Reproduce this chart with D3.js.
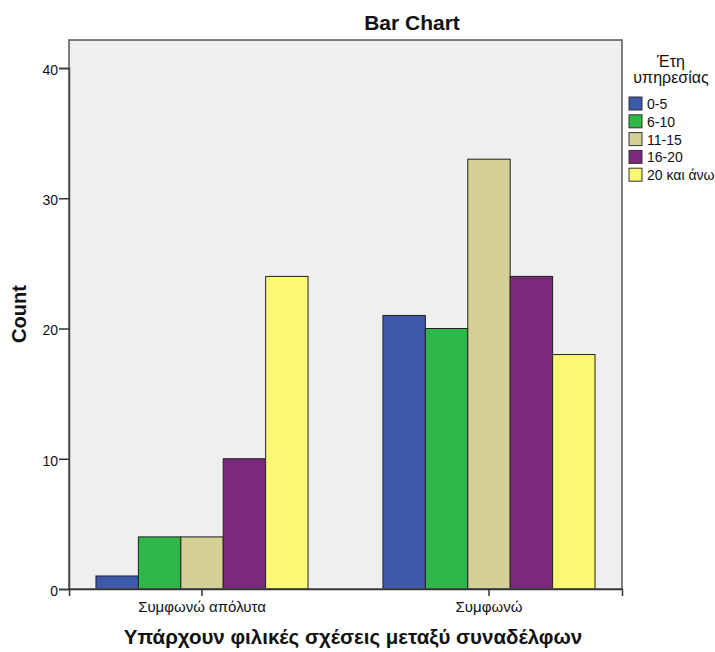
<!DOCTYPE html>
<html><head><meta charset="utf-8">
<script src="https://cdn.jsdelivr.net/npm/d3@7"></script>
<style>body{margin:0;background:#fff}svg{display:block}text{font-family:Arial,"Liberation Sans",sans-serif}</style>
</head><body>
<svg id="c" width="715" height="652"></svg>
<script>
const categories = ["Συμφωνώ απόλυτα", "Συμφωνώ"];
const seriesNames = ["0-5", "6-10", "11-15", "16-20", "20 και άνω"];
const seriesColors = ["#3e58ac", "#2fb84a", "#d3cf97", "#7b297c", "#fbf874"];
const values = [
  [1, 4, 4, 10, 24],
  [21, 20, 33, 24, 18]
];
const yTicks = [0, 10, 20, 30, 40];

const svg = d3.select("#c");
const L = 69, R = 622, T = 40, B = 589;

svg.append("rect").attr("x", L).attr("y", T).attr("width", R - L).attr("height", B - T)
  .attr("fill", "#efefef");

const x0 = d3.scaleBand().domain(categories).range([L, R]).paddingInner(0.261).paddingOuter(0.094);
const x1 = d3.scaleBand().domain(seriesNames).range([0, x0.bandwidth()]);
const y = d3.scaleLinear().domain([0, 40]).range([B, 68]);

const groups = svg.append("g").selectAll("g").data(categories).join("g")
  .attr("transform", d => `translate(${x0(d)},0)`);
groups.selectAll("rect").data((d, i) => values[i].map((v, j) => ({v, s: seriesNames[j], c: seriesColors[j]})))
  .join("rect")
  .attr("x", d => x1(d.s)).attr("y", d => y(d.v))
  .attr("width", x1.bandwidth()).attr("height", d => B - y(d.v))
  .attr("fill", d => d.c).attr("stroke", "#222").attr("stroke-width", 1);

// frame
svg.append("rect").attr("x", L).attr("y", T).attr("width", R - L).attr("height", B - T)
  .attr("fill", "none").attr("stroke", "#555").attr("stroke-width", 1.5);

// y axis
const ya = svg.append("g").attr("transform", `translate(${L},0)`)
  .call(d3.axisLeft(y).tickValues(yTicks).tickSize(10).tickPadding(1).tickFormat(d3.format("d")));
ya.select(".domain").attr("stroke", "#444").attr("stroke-width", 1.5);
ya.selectAll(".tick line").attr("stroke", "#333").attr("stroke-width", 1.5);
ya.selectAll("text").attr("font-size", 14).attr("dy", "0.45em").attr("fill", "#111")
  .attr("font-family", "Arial,'Liberation Sans',sans-serif");

// x axis
const xa = svg.append("g").attr("transform", `translate(0,${B})`)
  .call(d3.axisBottom(x0).tickSize(7).tickPadding(5));
xa.select(".domain").attr("stroke", "#333").attr("stroke-width", 1.5);
xa.selectAll(".tick line").attr("stroke", "#333").attr("stroke-width", 1.5);
xa.selectAll("text").attr("font-size", 15).attr("fill", "#111")
  .attr("font-family", "Arial,'Liberation Sans',sans-serif");

// titles
svg.append("text").attr("x", 412).attr("y", 30).attr("text-anchor", "middle")
  .attr("font-size", 21).attr("font-weight", "bold").attr("fill", "#111").text("Bar Chart");
svg.append("text").attr("transform", "translate(26,314) rotate(-90)").attr("text-anchor", "middle")
  .attr("font-size", 20).attr("font-weight", "bold").attr("fill", "#111").text("Count");
svg.append("text").attr("x", 353).attr("y", 644).attr("text-anchor", "middle")
  .attr("font-size", 20.5).attr("font-weight", "bold").attr("fill", "#111").text("Υπάρχουν φιλικές σχέσεις μεταξύ συναδέλφων");

// legend
const lg = svg.append("g");
lg.append("text").attr("x", 671).attr("y", 67).attr("text-anchor", "middle").attr("font-size", 16).attr("fill", "#111").text("Έτη");
lg.append("text").attr("x", 671).attr("y", 83).attr("text-anchor", "middle").attr("font-size", 16).attr("fill", "#111").text("υπηρεσίας");
const items = lg.selectAll("g.it").data(seriesNames).join("g").attr("class", "it")
  .attr("transform", (d, i) => `translate(629,${97 + i * 17.8})`);
items.append("rect").attr("width", 13).attr("height", 13)
  .attr("fill", (d, i) => seriesColors[i]).attr("stroke", "#333").attr("stroke-width", 1);
items.append("text").attr("x", 18).attr("y", 12).attr("font-size", 14).attr("fill", "#111").text(d => d);
</script>
</body></html>
